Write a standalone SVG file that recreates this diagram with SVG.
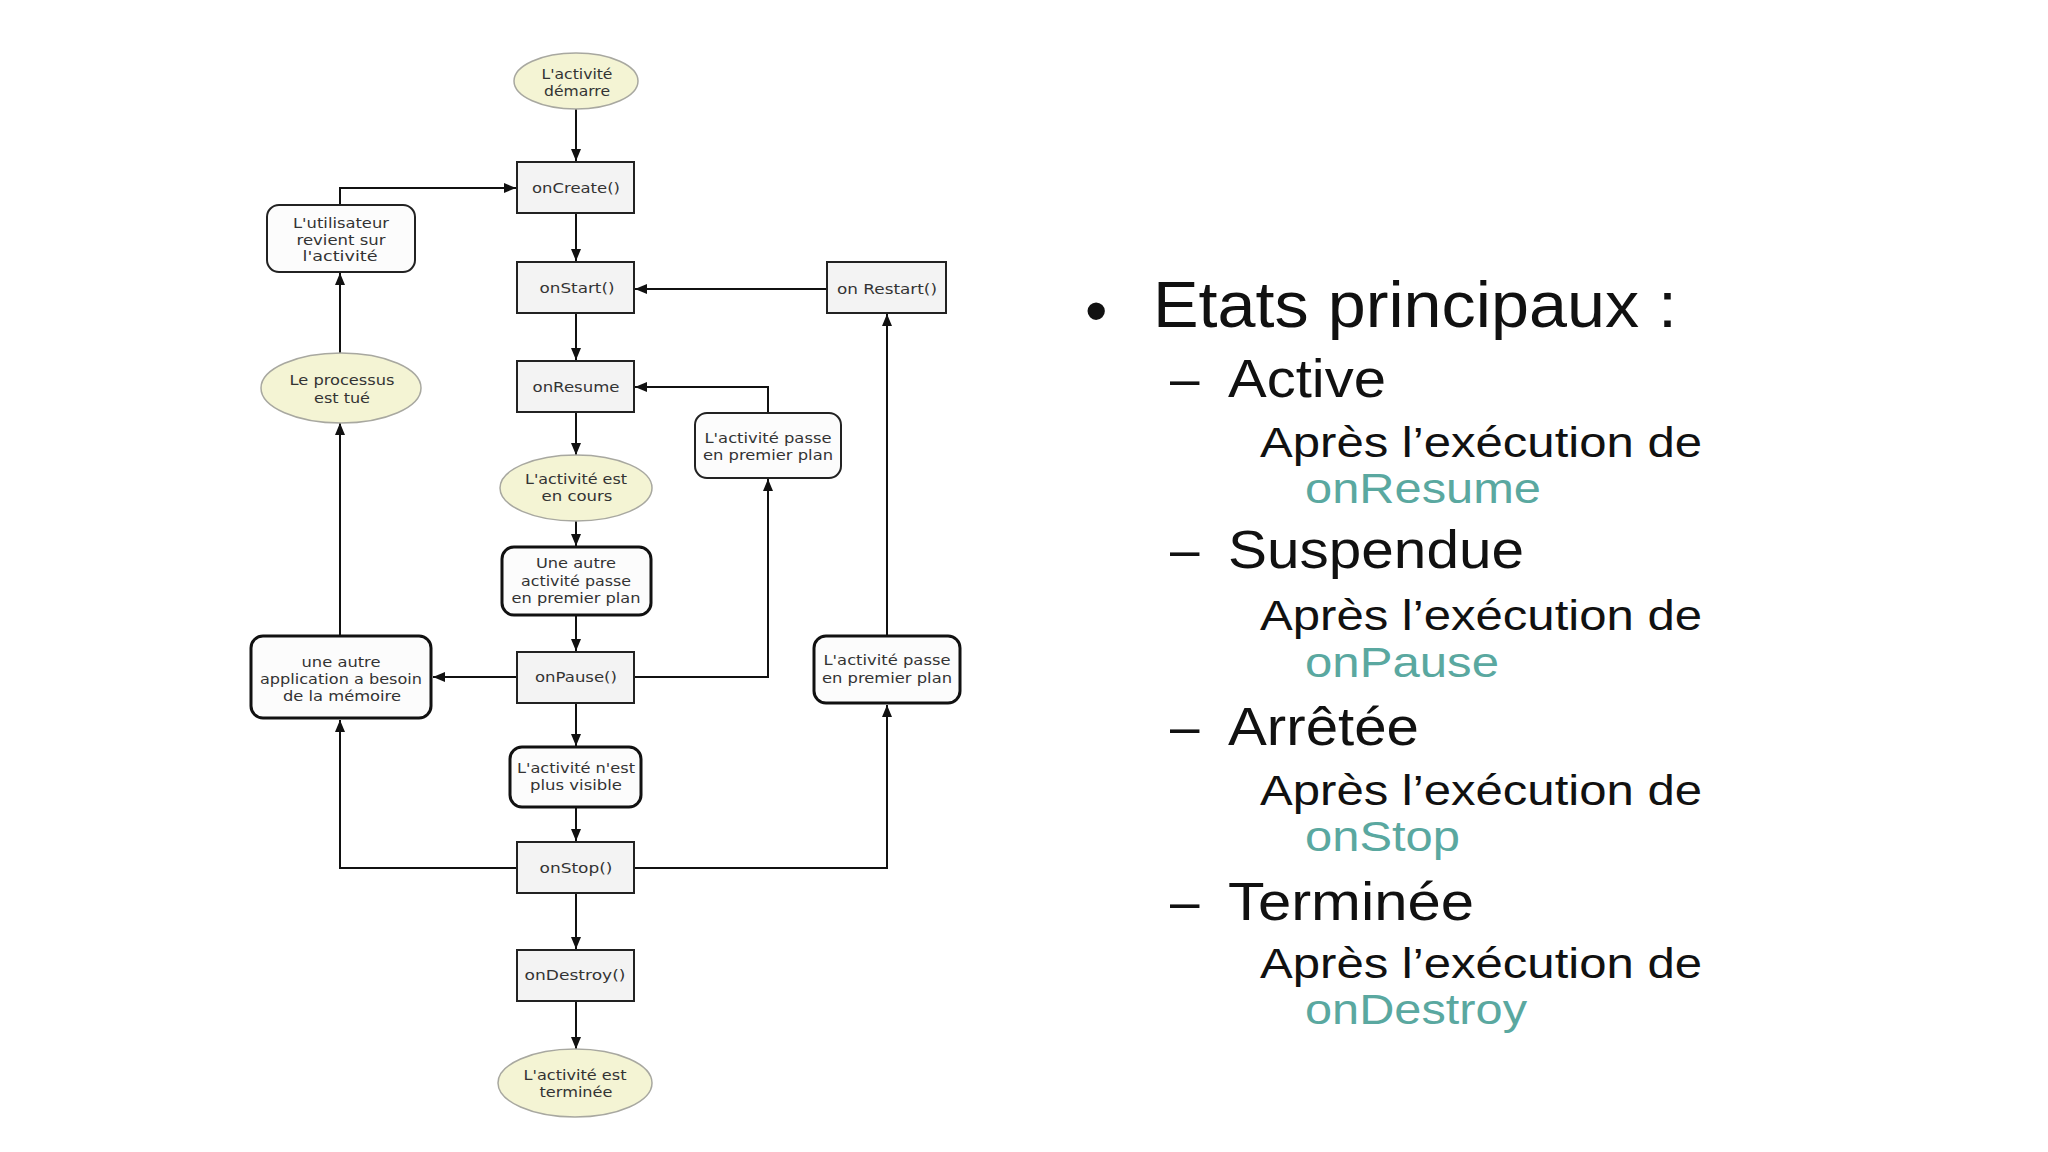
<svg xmlns="http://www.w3.org/2000/svg" width="2048" height="1152" viewBox="0 0 2048 1152">
<defs>
<marker id="arr" markerUnits="userSpaceOnUse" markerWidth="12" markerHeight="10" refX="12" refY="5" orient="auto">
<path d="M0,0 L12,5 L0,10 z" fill="#111"/>
</marker>
<style>
.m{fill:#f3f3f3;stroke:#222;stroke-width:2}
.r{fill:#fcfcfc;stroke:#222;stroke-width:2}
.rb{fill:#fcfcfc;stroke:#111;stroke-width:3}
.e{fill:#f4f4d4;stroke:#a8a8a0;stroke-width:1.5}
.t{font-family:"DejaVu Sans",Verdana,sans-serif;font-size:14.5px;fill:#333;text-anchor:middle}
.c line,.c polyline{fill:none;stroke:#111;stroke-width:2;marker-end:url(#arr)}
.h{font-family:"Liberation Sans",Arial,sans-serif;fill:#111}
.g{font-family:"Liberation Sans",Arial,sans-serif;fill:#5aa8a0}
</style>
</defs>
<rect width="2048" height="1152" fill="#fff"/>

<g id="connectors" class="c">
<line x1="576" y1="109" x2="576" y2="161"/>
<line x1="576" y1="213" x2="576" y2="261"/>
<line x1="576" y1="313" x2="576" y2="360"/>
<line x1="576" y1="412" x2="576" y2="455"/>
<line x1="576" y1="521" x2="576" y2="546"/>
<line x1="576" y1="615" x2="576" y2="651"/>
<line x1="576" y1="703" x2="576" y2="746"/>
<line x1="576" y1="807" x2="576" y2="841"/>
<line x1="576" y1="893" x2="576" y2="949"/>
<line x1="576" y1="1001" x2="576" y2="1049"/>
<line x1="517" y1="677" x2="433" y2="677"/>
<polyline points="634,677 768,677 768,479"/>
<polyline points="768,413 768,387 635,387"/>
<polyline points="517,868 340,868 340,720"/>
<line x1="340" y1="636" x2="340" y2="423"/>
<line x1="340" y1="353" x2="340" y2="273"/>
<polyline points="340,205 340,188 516,188"/>
<polyline points="634,868 887,868 887,705"/>
<line x1="887" y1="636" x2="887" y2="314"/>
<line x1="827" y1="289" x2="635" y2="289"/>
</g>

<g id="n-start"><ellipse class="e" cx="576" cy="81" rx="62" ry="28"/>
<text class="t" x="577" y="79" textLength="71" lengthAdjust="spacingAndGlyphs">L'activité</text>
<text class="t" x="577" y="96" textLength="66" lengthAdjust="spacingAndGlyphs">démarre</text></g>

<g id="n-oncreate"><rect class="m" x="517" y="162" width="117" height="51"/>
<text class="t" x="576" y="193" textLength="88" lengthAdjust="spacingAndGlyphs">onCreate()</text></g>

<g id="n-onstart"><rect class="m" x="517" y="262" width="117" height="51"/>
<text class="t" x="577" y="293" textLength="75" lengthAdjust="spacingAndGlyphs">onStart()</text></g>

<g id="n-onresume"><rect class="m" x="517" y="361" width="117" height="51"/>
<text class="t" x="576" y="392" textLength="87" lengthAdjust="spacingAndGlyphs">onResume</text></g>

<g id="n-encours"><ellipse class="e" cx="576" cy="488" rx="76" ry="33"/>
<text class="t" x="576" y="484" textLength="102" lengthAdjust="spacingAndGlyphs">L'activité est</text>
<text class="t" x="577" y="501" textLength="71" lengthAdjust="spacingAndGlyphs">en cours</text></g>

<g id="n-autreactivite"><rect class="rb" x="502" y="547" width="149" height="68" rx="12"/>
<text class="t" x="576" y="568" textLength="80" lengthAdjust="spacingAndGlyphs">Une autre</text>
<text class="t" x="576" y="586" textLength="110" lengthAdjust="spacingAndGlyphs">activité passe</text>
<text class="t" x="576" y="603" textLength="129" lengthAdjust="spacingAndGlyphs">en premier plan</text></g>

<g id="n-onpause"><rect class="m" x="517" y="652" width="117" height="51"/>
<text class="t" x="576" y="682" textLength="82" lengthAdjust="spacingAndGlyphs">onPause()</text></g>

<g id="n-plusvisible"><rect class="rb" x="510" y="747" width="131" height="60" rx="12"/>
<text class="t" x="576" y="773" textLength="118" lengthAdjust="spacingAndGlyphs">L'activité n'est</text>
<text class="t" x="576" y="790" textLength="92" lengthAdjust="spacingAndGlyphs">plus visible</text></g>

<g id="n-onstop"><rect class="m" x="517" y="842" width="117" height="51"/>
<text class="t" x="576" y="873" textLength="73" lengthAdjust="spacingAndGlyphs">onStop()</text></g>

<g id="n-ondestroy"><rect class="m" x="517" y="950" width="117" height="51"/>
<text class="t" x="575" y="980" textLength="101" lengthAdjust="spacingAndGlyphs">onDestroy()</text></g>

<g id="n-terminee"><ellipse class="e" cx="575" cy="1083" rx="77" ry="34"/>
<text class="t" x="575" y="1080" textLength="103" lengthAdjust="spacingAndGlyphs">L'activité est</text>
<text class="t" x="576" y="1097" textLength="73" lengthAdjust="spacingAndGlyphs">terminée</text></g>

<g id="n-utilisateur"><rect class="r" x="267" y="205" width="148" height="67" rx="12"/>
<text class="t" x="341" y="228" textLength="96" lengthAdjust="spacingAndGlyphs">L'utilisateur</text>
<text class="t" x="341" y="245" textLength="89" lengthAdjust="spacingAndGlyphs">revient sur</text>
<text class="t" x="340" y="261" textLength="75" lengthAdjust="spacingAndGlyphs">l'activité</text></g>

<g id="n-processus"><ellipse class="e" cx="341" cy="388" rx="80" ry="35"/>
<text class="t" x="342" y="385" textLength="105" lengthAdjust="spacingAndGlyphs">Le processus</text>
<text class="t" x="342" y="403" textLength="56" lengthAdjust="spacingAndGlyphs">est tué</text></g>

<g id="n-memoire"><rect class="rb" x="251" y="636" width="180" height="82" rx="12"/>
<text class="t" x="341" y="667" textLength="79" lengthAdjust="spacingAndGlyphs">une autre</text>
<text class="t" x="341" y="684" textLength="162" lengthAdjust="spacingAndGlyphs">application a besoin</text>
<text class="t" x="342" y="701" textLength="118" lengthAdjust="spacingAndGlyphs">de la mémoire</text></g>

<g id="n-premierplan1"><rect class="r" x="695" y="413" width="146" height="65" rx="12"/>
<text class="t" x="768" y="443" textLength="127" lengthAdjust="spacingAndGlyphs">L'activité passe</text>
<text class="t" x="768" y="460" textLength="130" lengthAdjust="spacingAndGlyphs">en premier plan</text></g>

<g id="n-premierplan2"><rect class="rb" x="814" y="636" width="146" height="67" rx="12"/>
<text class="t" x="887" y="665" textLength="127" lengthAdjust="spacingAndGlyphs">L'activité passe</text>
<text class="t" x="887" y="683" textLength="130" lengthAdjust="spacingAndGlyphs">en premier plan</text></g>

<g id="n-onrestart"><rect class="m" x="827" y="262" width="119" height="51"/>
<text class="t" x="887" y="294" textLength="100" lengthAdjust="spacingAndGlyphs">on Restart()</text></g>

<g id="etats">
<text class="h" x="1085" y="333" font-size="64">•</text>
<text class="h" x="1153" y="327" font-size="65" textLength="524" lengthAdjust="spacingAndGlyphs">Etats principaux :</text>
<text class="h" x="1170" y="397" font-size="53">–</text>
<text class="h" x="1228" y="397" font-size="53" textLength="158" lengthAdjust="spacingAndGlyphs">Active</text>
<text class="h" x="1260" y="457" font-size="43" textLength="442" lengthAdjust="spacingAndGlyphs">Après l’exécution de</text>
<text class="g" x="1305" y="503" font-size="43" textLength="236" lengthAdjust="spacingAndGlyphs">onResume</text>
<text class="h" x="1170" y="568" font-size="53">–</text>
<text class="h" x="1228" y="568" font-size="53" textLength="296" lengthAdjust="spacingAndGlyphs">Suspendue</text>
<text class="h" x="1260" y="630" font-size="43" textLength="442" lengthAdjust="spacingAndGlyphs">Après l’exécution de</text>
<text class="g" x="1305" y="677" font-size="43" textLength="194" lengthAdjust="spacingAndGlyphs">onPause</text>
<text class="h" x="1170" y="745" font-size="53">–</text>
<text class="h" x="1228" y="745" font-size="53" textLength="191" lengthAdjust="spacingAndGlyphs">Arrêtée</text>
<text class="h" x="1260" y="805" font-size="43" textLength="442" lengthAdjust="spacingAndGlyphs">Après l’exécution de</text>
<text class="g" x="1305" y="851" font-size="43" textLength="155" lengthAdjust="spacingAndGlyphs">onStop</text>
<text class="h" x="1170" y="920" font-size="53">–</text>
<text class="h" x="1228" y="920" font-size="53" textLength="246" lengthAdjust="spacingAndGlyphs">Terminée</text>
<text class="h" x="1260" y="978" font-size="43" textLength="442" lengthAdjust="spacingAndGlyphs">Après l’exécution de</text>
<text class="g" x="1305" y="1024" font-size="43" textLength="222" lengthAdjust="spacingAndGlyphs">onDestroy</text>
</g>
</svg>
